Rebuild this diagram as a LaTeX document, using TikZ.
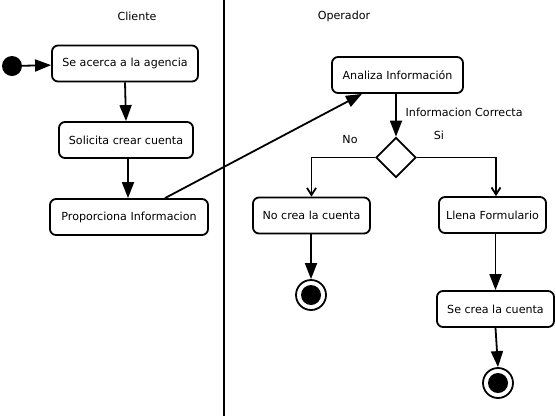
\documentclass[tikz,border=0pt]{standalone}
\usepackage{fontspec}
\setmainfont{DejaVu Sans}
\usetikzlibrary{arrows.meta,shapes.geometric}
\begin{document}
\begin{tikzpicture}[x=1pt,y=1pt]
\tikzset{
  act/.style={draw, line width=1.8pt, rounded corners=6pt, minimum height=36pt, inner sep=0pt, font=\fontsize{11.1}{12}\selectfont},
  arr/.style={line width=1.8pt, -{Triangle[length=16pt,width=12pt]}},
  oarr/.style={line width=1.8pt, -{Straight Barb[length=7pt,width=9pt]}},
  lbl/.style={font=\fontsize{11.1}{12}\selectfont, inner sep=0pt},
  startnode/.style={circle, fill=black, minimum size=20pt, inner sep=0pt},
  endnode/.style={circle, draw, line width=1.8pt, minimum size=30pt, inner sep=0pt,
    path picture={\fill (path picture bounding box.center) circle (10pt);}},
  dec/.style={diamond, draw, line width=1.8pt, minimum width=40pt, minimum height=40pt, inner sep=0pt, shape aspect=1}
}
\useasboundingbox (0,0) rectangle (556,-416);
\coordinate (divtop) at (224,0);
\coordinate (divbot) at (224,-416);
\draw[line width=1.8pt] (divtop) -- (divbot);

\node[lbl] (cli) at (137,-16) {Cliente};
\node[lbl] (ope) at (344,-16) {Operador};

\node[startnode] (start) at (12,-66) {};
\node[act, minimum width=146pt] (b1) at (125,-63.5) {Se acerca a la agencia};
\node[act, minimum width=134pt] (b2) at (126,-140) {Solicita crear cuenta};
\node[act, minimum width=158pt] (b3) at (129,-217) {Proporciona Informacion};
\node[act, minimum width=131pt] (ana) at (397.5,-75) {Analiza Información};
\node[dec] (d) at (396,-157.5) {};
\node[act, minimum width=117pt] (no) at (311.5,-215.5) {No crea la cuenta};
\node[act, minimum width=107pt] (ll) at (492.5,-215) {Llena Formulario};
\node[act, minimum width=117pt] (se) at (495.5,-309) {Se crea la cuenta};
\node[endnode] (e1) at (311,-295) {};
\node[endnode] (e2) at (498,-383) {};

\node[lbl, anchor=west] (ic) at (405.5,-112.7) {Informacion Correcta};
\node[lbl] (lno) at (350,-140) {No};
\node[lbl] (lsi) at (439,-135) {Si};

\draw[arr] (start) -- (b1);
\draw[arr] (b1.south) -- (b2.north);
\draw[arr] ([xshift=2pt]b2.south) -- ([xshift=-1pt]b3.north);
\draw[arr] ([xshift=36pt]b3.north) -- ([xshift=-35.5pt]ana.south);
\draw[arr] (ana.south -| d.north) -- (d.north);
\draw[oarr] (d.west) -| (no.north);
\draw[oarr] (d.east) -| ([xshift=3.5pt]ll.north);
\draw[arr] (no.south -| e1.north) -- (e1.north);
\draw[arr] (ll.south -| se.north) -- (se.north);
\draw[arr] (se.south) -- (e2.north);
\end{tikzpicture}
\end{document}
